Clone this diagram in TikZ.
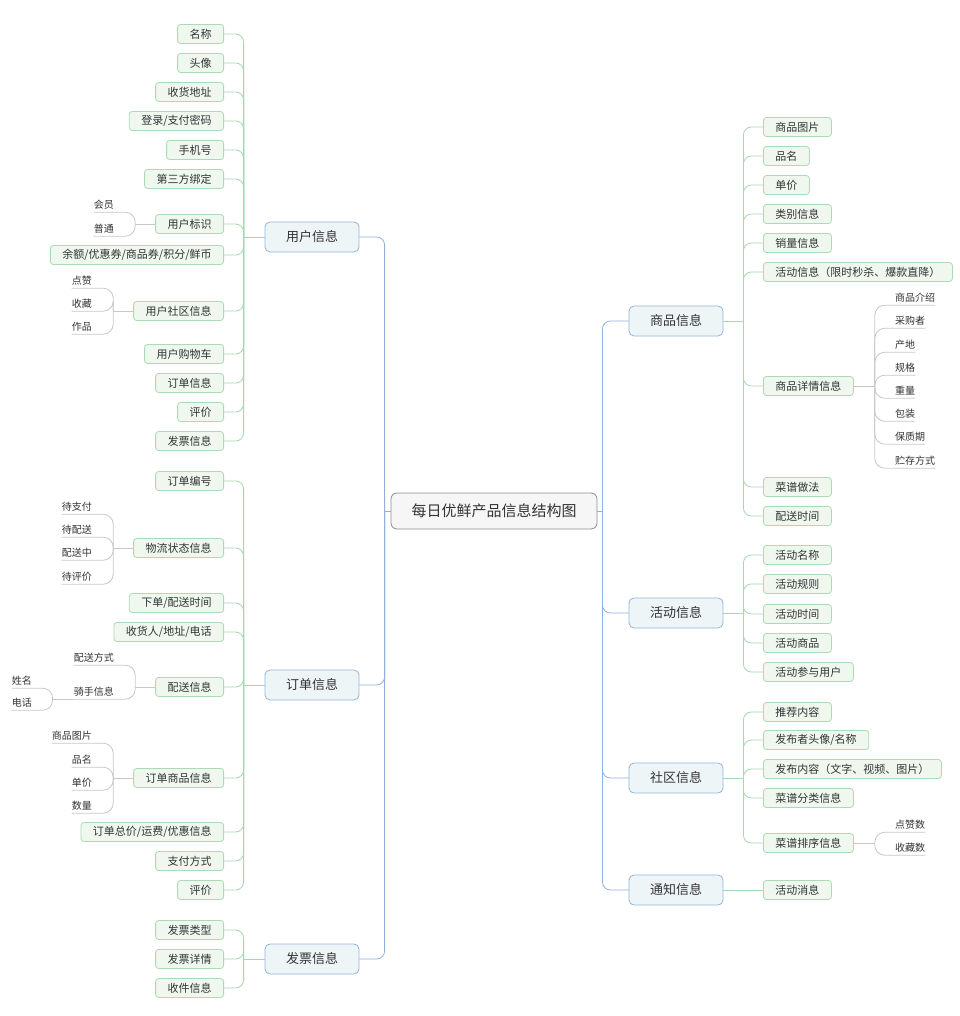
\documentclass[tikz,border=0pt]{standalone}
\usepackage{fontspec}
\setmainfont{Noto Sans CJK SC}
\definecolor{txt}{HTML}{333333}
\definecolor{bline}{HTML}{8FB1DB}
\definecolor{gline}{HTML}{A3D9AE}
\definecolor{yline}{HTML}{C8C8C8}
\definecolor{rootb}{HTML}{8E8E8E}
\definecolor{rootf}{HTML}{F6F6F6}
\definecolor{oneb}{HTML}{93B4DC}
\definecolor{onef}{HTML}{EEF5F7}
\definecolor{twob}{HTML}{ABDBB5}
\definecolor{twof}{HTML}{EFF7EF}
\tikzset{
  root/.style={draw=rootb, fill=rootf, rounded corners=6pt, minimum width=206pt, minimum height=36pt, inner sep=0pt, line width=0.8pt, text=txt, font=\fontsize{15}{18}\selectfont},
  lone/.style={draw=oneb, fill=onef, rounded corners=5pt, minimum width=94pt, minimum height=30pt, inner sep=0pt, line width=0.8pt, text=txt, font=\fontsize{13}{16}\selectfont},
  ltwo/.style={draw=twob, fill=twof, rounded corners=3pt, minimum height=19pt, inner xsep=12pt, inner ysep=0pt, line width=0.8pt, text=txt, font=\fontsize{11}{13}\selectfont},
  lthree/.style={inner xsep=0pt, inner ysep=1.5pt, text height=9pt, text depth=2pt, text=txt, font=\fontsize{10}{12}\selectfont},
  cb/.style={draw=bline, line width=0.8pt, rounded corners=8pt},
  cg/.style={draw=gline, line width=0.8pt, rounded corners=8pt},
  cy/.style={draw=yline, line width=0.8pt, rounded corners=10pt}
}
\begin{document}
\begin{tikzpicture}[x=1pt,y=-1pt]
\useasboundingbox (0,0) rectangle (959,1016);
\fill[white] (0,0) rectangle (959,1016);

% root and level 1
\node[root] (root) at (494,511) {每日优鲜产品信息结构图};
\node[lone] (user) at (312,237) {用户信息};
\node[lone] (order) at (312,685) {订单信息};
\node[lone] (invoice) at (312,959) {发票信息};
\node[lone] (goods) at (676,321) {商品信息};
\node[lone] (act) at (676,613) {活动信息};
\node[lone] (comm) at (676,778) {社区信息};
\node[lone] (notice) at (676,890) {通知信息};
\coordinate (rootL) at ([xshift=-6pt]root.west);
\coordinate (rootR) at ([xshift=5pt]root.east);
\draw[cb] (root.west) -- (rootL);
\draw[cb] (root.east) -- (rootR);
\foreach \n in {user,order,invoice} \draw[cb] (rootL) |- (\n.east);
\foreach \n in {goods,act,comm,notice} \draw[cb] (rootR) |- (\n.west);

% junction points of level 1
\coordinate (userJ) at ([xshift=-21pt]user.west);
\coordinate (orderJ) at ([xshift=-21pt]order.west);
\coordinate (invoiceJ) at ([xshift=-21pt]invoice.west);
\coordinate (goodsJ) at ([xshift=20pt]goods.east);
\coordinate (actJ) at ([xshift=20pt]act.east);
\coordinate (commJ) at ([xshift=20pt]comm.east);
\coordinate (noticeJ) at ([xshift=20pt]notice.east);
\draw[cg] (user.west) -- (userJ);
\draw[cg] (order.west) -- (orderJ);
\draw[cg] (invoice.west) -- (invoiceJ);
\draw[cg] (goods.east) -- (goodsJ);
\draw[cg] (act.east) -- (actJ);
\draw[cg] (comm.east) -- (commJ);

% user children
\foreach \n/\y/\t in {u1/34/{名称},u2/63/{头像},u3/92/{收货地址},u4/121/{登录/支付密码},u5/150/{手机号},u6/179/{第三方绑定},u7/224/{用户标识},u8/255/{余额/优惠券/商品券/积分/鲜币},u9/311/{用户社区信息},u10/354/{用户购物车},u11/383/{订单信息},u12/412/{评价},u13/441/{发票信息}}{
  \node[ltwo, anchor=east] (\n) at (224,\y) {\t};
  \draw[cg] (userJ) |- (\n.east);
}
% order children
\foreach \n/\y/\t in {o1/481/{订单编号},o2/548/{物流状态信息},o3/603/{下单/配送时间},o4/632/{收货人/地址/电话},o5/687/{配送信息},o6/778/{订单商品信息},o7/832/{订单总价/运费/优惠信息},o8/861/{支付方式},o9/890/{评价}}{
  \node[ltwo, anchor=east] (\n) at (224,\y) {\t};
  \draw[cg] (orderJ) |- (\n.east);
}
% invoice children
\foreach \n/\y/\t in {i1/930/{发票类型},i2/959/{发票详情},i3/988/{收件信息}}{
  \node[ltwo, anchor=east] (\n) at (224,\y) {\t};
  \draw[cg] (invoiceJ) |- (\n.east);
}
% goods children
\foreach \n/\y/\t in {g1/127/{商品图片},g2/156/{品名},g3/185/{单价},g4/214/{类别信息},g5/243/{销量信息},g6/272/{活动信息（限时秒杀、爆款直降）},g7/386/{商品详情信息},g8/487/{菜谱做法},g9/516/{配送时间}}{
  \node[ltwo, anchor=west] (\n) at (763,\y) {\t};
  \draw[cg] (goodsJ) |- (\n.west);
}
% activity children
\foreach \n/\y/\t in {h1/555/{活动名称},h2/584/{活动规则},h3/614/{活动时间},h4/643/{活动商品},h5/672/{活动参与用户}}{
  \node[ltwo, anchor=west] (\n) at (763,\y) {\t};
  \draw[cg] (actJ) |- (\n.west);
}
% community children
\foreach \n/\y/\t in {c1/712/{推荐内容},c2/740/{发布者头像/名称},c3/769/{发布内容（文字、视频、图片）},c4/798/{菜谱分类信息},c5/843/{菜谱排序信息}}{
  \node[ltwo, anchor=west] (\n) at (763,\y) {\t};
  \draw[cg] (commJ) |- (\n.west);
}
% notice children
\node[ltwo, anchor=west] (n1) at (763,890) {活动消息};
\draw[cg] (notice.east) -- (n1.west);

% level 3, left side
\coordinate (u7J) at ([xshift=-20pt]u7.west);
\draw[cy] (u7.west) -- (u7J);
\foreach \n/\y/\t in {a1/205/{会员},a2/229/{普通}}{
  \node[lthree, anchor=east] (\n) at (114,\y) {\t};
  \draw[cy] (u7J) |- (\n.south west);
}
\coordinate (u9J) at ([xshift=-20pt]u9.west);
\draw[cy] (u9.west) -- (u9J);
\foreach \n/\y/\t in {b1/281/{点赞},b2/304/{收藏},b3/327/{作品}}{
  \node[lthree, anchor=east] (\n) at (92,\y) {\t};
  \draw[cy] (u9J) |- (\n.south west);
}
\coordinate (o2J) at ([xshift=-20pt]o2.west);
\draw[cy] (o2.west) -- (o2J);
\foreach \n/\y/\t in {s1/507/{待支付},s2/530/{待配送},s3/553/{配送中},s4/577/{待评价}}{
  \node[lthree, anchor=east] (\n) at (92,\y) {\t};
  \draw[cy] (o2J) |- (\n.south west);
}
\coordinate (o5J) at ([xshift=-20pt]o5.west);
\draw[cy] (o5.west) -- (o5J);
\foreach \n/\y/\t in {d1/658/{配送方式},d2/692/{骑手信息}}{
  \node[lthree, anchor=east] (\n) at (114,\y) {\t};
  \draw[cy] (o5J) |- (\n.south west);
}
\coordinate (d2J) at ([xshift=-21pt]d2.south west);
\foreach \n/\y/\t in {r1/681/{姓名},r2/703/{电话}}{
  \node[lthree, anchor=east] (\n) at (32,\y) {\t};
  \draw[cy] (d2J) |- (\n.south west);
}
\draw[cy] (d2.south west) -- (d2J);
\coordinate (o6J) at ([xshift=-20pt]o6.west);
\draw[cy] (o6.west) -- (o6J);
\foreach \n/\y/\t in {p1/736/{商品图片},p2/760/{品名},p3/783/{单价},p4/806/{数量}}{
  \node[lthree, anchor=east] (\n) at (92,\y) {\t};
  \draw[cy] (o6J) |- (\n.south west);
}
% level 3, right side
\coordinate (g7J) at ([xshift=21pt]g7.east);
\draw[cy] (g7.east) -- (g7J);
\foreach \n/\y/\t in {e1/298/{商品介绍},e2/321/{采购者},e3/345/{产地},e4/368/{规格},e5/391/{重量},e6/414/{包装},e7/437/{保质期},e8/461/{贮存方式}}{
  \node[lthree, anchor=west] (\n) at (895,\y) {\t};
  \draw[cy] (g7J) |- (\n.south east);
}
\coordinate (c5J) at ([xshift=21pt]c5.east);
\draw[cy] (c5.east) -- (c5J);
\foreach \n/\y/\t in {f1/825/{点赞数},f2/848/{收藏数}}{
  \node[lthree, anchor=west] (\n) at (895,\y) {\t};
  \draw[cy] (c5J) |- (\n.south east);
}
\end{tikzpicture}
\end{document}
